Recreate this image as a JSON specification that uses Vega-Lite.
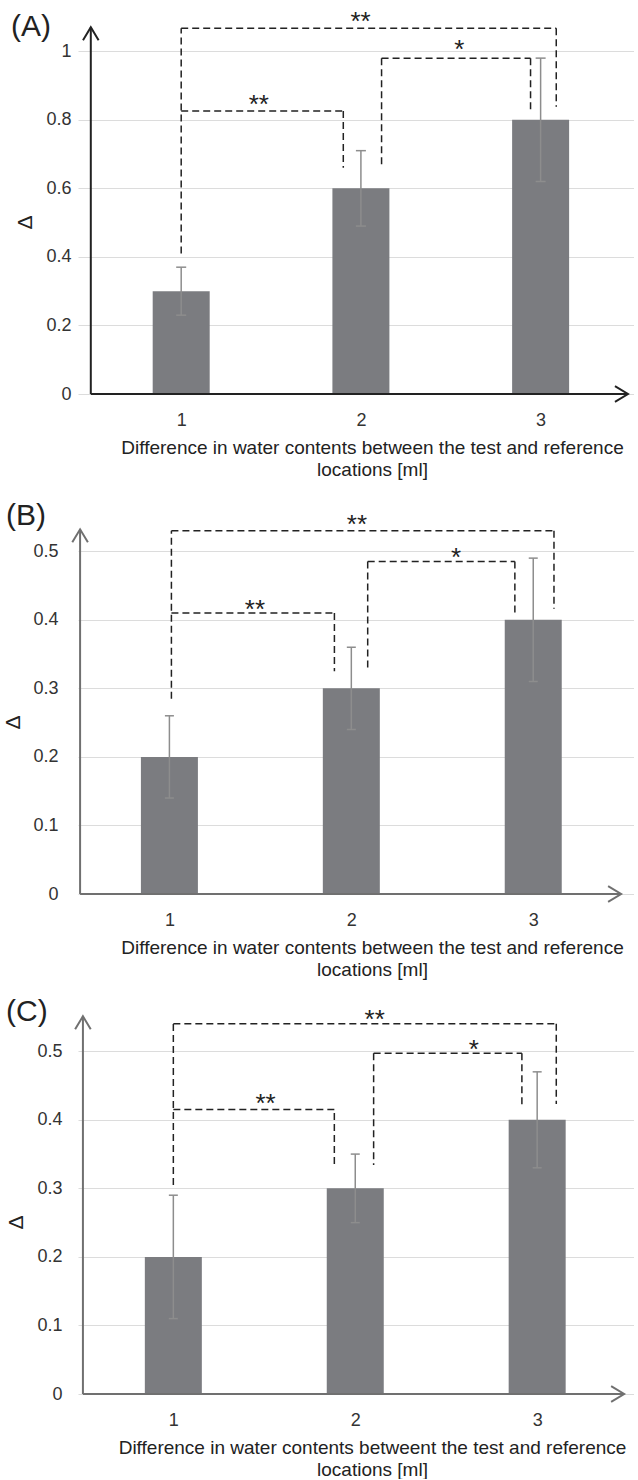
{
  "$schema": "https://vega.github.io/schema/vega-lite/v6.json",
  "padding": {"left": 2, "top": 9, "right": 0, "bottom": 0},
  "config": {
    "view": {"stroke": null},
    "font": "Liberation Sans",
    "axis": {"domain": false, "ticks": false, "labelFont": "Liberation Sans", "labelFontSize": 18, "labelColor": "#333", "titleFont": "Liberation Sans", "titleFontWeight": "normal", "titleColor": "#222"},
    "axisX": {"grid": false, "labelPadding": 17, "titleFontSize": 19, "titlePadding": 9, "titleLineHeight": 22, "titleX": 294, "labelAngle": 0},
    "axisY": {"grid": true, "gridColor": "#dcdcdc", "gridWidth": 1.2, "titleFontSize": 21, "titleAngle": -90, "titleBaseline": "middle", "titleY": 205},
    "title": {"anchor": "start", "frame": "group", "fontSize": 30, "fontWeight": "normal", "font": "Liberation Sans", "color": "#222", "baseline": "middle", "offset": 0}
  },
  "datasets": {
    "bars": [
      {"panel": "A", "x": 1, "y": 0.3, "lo": 0.23, "hi": 0.37},
      {"panel": "A", "x": 2, "y": 0.6, "lo": 0.49, "hi": 0.71},
      {"panel": "A", "x": 3, "y": 0.8, "lo": 0.62, "hi": 0.98},
      {"panel": "B", "x": 1, "y": 0.2, "lo": 0.14, "hi": 0.26},
      {"panel": "B", "x": 2, "y": 0.3, "lo": 0.24, "hi": 0.36},
      {"panel": "B", "x": 3, "y": 0.4, "lo": 0.31, "hi": 0.49},
      {"panel": "C", "x": 1, "y": 0.2, "lo": 0.11, "hi": 0.29},
      {"panel": "C", "x": 2, "y": 0.3, "lo": 0.25, "hi": 0.35},
      {"panel": "C", "x": 3, "y": 0.4, "lo": 0.33, "hi": 0.47}
    ],
    "brackets": [
      {"panel": "A", "x": 1.0, "y": 0.41, "x2": 1.0, "y2": 1.067},
      {"panel": "A", "x": 1.0, "y": 0.826, "x2": 1.902, "y2": 0.826},
      {"panel": "A", "x": 1.902, "y": 0.826, "x2": 1.902, "y2": 0.66},
      {"panel": "A", "x": 2.115, "y": 0.98, "x2": 2.944, "y2": 0.98},
      {"panel": "A", "x": 2.115, "y": 0.98, "x2": 2.115, "y2": 0.66},
      {"panel": "A", "x": 2.944, "y": 0.98, "x2": 2.944, "y2": 0.826},
      {"panel": "A", "x": 1.0, "y": 1.067, "x2": 3.087, "y2": 1.067},
      {"panel": "A", "x": 3.087, "y": 1.067, "x2": 3.087, "y2": 0.838},
      {"panel": "B", "x": 1.011, "y": 0.285, "x2": 1.011, "y2": 0.53},
      {"panel": "B", "x": 1.011, "y": 0.41, "x2": 1.907, "y2": 0.41},
      {"panel": "B", "x": 1.907, "y": 0.41, "x2": 1.907, "y2": 0.325},
      {"panel": "B", "x": 2.09, "y": 0.485, "x2": 2.899, "y2": 0.485},
      {"panel": "B", "x": 2.09, "y": 0.485, "x2": 2.09, "y2": 0.325},
      {"panel": "B", "x": 2.899, "y": 0.485, "x2": 2.899, "y2": 0.409},
      {"panel": "B", "x": 1.011, "y": 0.53, "x2": 3.114, "y2": 0.53},
      {"panel": "B", "x": 3.114, "y": 0.53, "x2": 3.114, "y2": 0.416},
      {"panel": "C", "x": 1.0, "y": 0.305, "x2": 1.0, "y2": 0.54},
      {"panel": "C", "x": 1.0, "y": 0.415, "x2": 1.885, "y2": 0.415},
      {"panel": "C", "x": 1.885, "y": 0.41, "x2": 1.885, "y2": 0.332},
      {"panel": "C", "x": 2.101, "y": 0.497, "x2": 2.916, "y2": 0.497},
      {"panel": "C", "x": 2.101, "y": 0.497, "x2": 2.101, "y2": 0.334},
      {"panel": "C", "x": 2.916, "y": 0.497, "x2": 2.916, "y2": 0.417},
      {"panel": "C", "x": 1.0, "y": 0.54, "x2": 3.105, "y2": 0.54},
      {"panel": "C", "x": 3.105, "y": 0.54, "x2": 3.105, "y2": 0.423}
    ],
    "stars": [
      {"panel": "A", "label": "**", "x": 1.432, "y": 0.863},
      {"panel": "A", "label": "*", "x": 2.548, "y": 1.023},
      {"panel": "A", "label": "**", "x": 1.998, "y": 1.105},
      {"panel": "B", "label": "**", "x": 1.47, "y": 0.424},
      {"panel": "B", "label": "*", "x": 2.576, "y": 0.5},
      {"panel": "B", "label": "**", "x": 2.031, "y": 0.548},
      {"panel": "C", "label": "**", "x": 1.507, "y": 0.433},
      {"panel": "C", "label": "*", "x": 2.652, "y": 0.512},
      {"panel": "C", "label": "**", "x": 2.107, "y": 0.556}
    ],
    "axislines": [
      {"panel": "A", "x": 0.497, "x2": 0.497, "y": 0, "y2": 1.07},
      {"panel": "A", "x": 0.497, "x2": 3.486, "y": 0, "y2": 0},
      {"panel": "B", "x": 0.509, "x2": 0.509, "y": 0, "y2": 0.532},
      {"panel": "B", "x": 0.509, "x2": 3.483, "y": 0, "y2": 0},
      {"panel": "C", "x": 0.503, "x2": 0.503, "y": 0, "y2": 0.551},
      {"panel": "C", "x": 0.503, "x2": 3.478, "y": 0, "y2": 0}
    ],
    "arrows": [
      {"panel": "A", "dir": "up", "x": 0.497, "y": 1.07},
      {"panel": "A", "dir": "right", "x": 3.486, "y": 0},
      {"panel": "B", "dir": "up", "x": 0.509, "y": 0.532},
      {"panel": "B", "dir": "right", "x": 3.483, "y": 0},
      {"panel": "C", "dir": "up", "x": 0.503, "y": 0.551},
      {"panel": "C", "dir": "right", "x": 3.478, "y": 0}
    ]
  },
  "spacing": 123,
  "bounds": "flush",
  "vconcat": [
    {
      "title": {"text": "(A)", "dx": -67, "dy": 37},
      "width": 556,
      "height": 377,
      "encoding": {
        "x": {"field": "x", "type": "quantitative", "scale": {"domain": [0.4536, 3.4918], "nice": false, "zero": false}, "axis": {"values": [1, 2, 3], "title": ["Difference in water contents between the test and reference", "locations [ml]"]}},
        "y": {"field": "y", "type": "quantitative", "scale": {"domain": [0, 1.1], "nice": false, "zero": false}, "axis": {"values": [0, 0.2, 0.4, 0.6, 0.8, 1], "format": "~g", "title": "Δ", "labelPadding": 7, "titleX": -52.5}}
      },
      "layer": [
        {"data": {"name": "bars"}, "transform": [{"filter": "datum.panel === 'A'"}], "mark": {"type": "bar", "orient": "vertical", "size": 57, "color": "#7b7c80", "opacity": 1}},
        {"data": {"name": "bars"}, "transform": [{"filter": "datum.panel === 'A'"}], "mark": {"type": "rule", "color": "#8d8d8d", "strokeWidth": 1.5}, "encoding": {"y": {"field": "lo", "type": "quantitative"}, "y2": {"field": "hi"}}},
        {"data": {"name": "bars"}, "transform": [{"filter": "datum.panel === 'A'"}], "mark": {"type": "tick", "orient": "horizontal", "size": 10, "thickness": 1.5, "color": "#8d8d8d", "opacity": 1}, "encoding": {"y": {"field": "lo", "type": "quantitative"}}},
        {"data": {"name": "bars"}, "transform": [{"filter": "datum.panel === 'A'"}], "mark": {"type": "tick", "orient": "horizontal", "size": 10, "thickness": 1.5, "color": "#8d8d8d", "opacity": 1}, "encoding": {"y": {"field": "hi", "type": "quantitative"}}},
        {"data": {"name": "brackets"}, "transform": [{"filter": "datum.panel === 'A'"}], "mark": {"type": "rule", "strokeDash": [7, 4], "strokeWidth": 1.5, "color": "#222"}, "encoding": {"x2": {"field": "x2"}, "y2": {"field": "y2"}}},
        {"data": {"name": "stars"}, "transform": [{"filter": "datum.panel === 'A'"}], "mark": {"type": "text", "fontSize": 26, "baseline": "middle", "dy": 7, "color": "#222"}, "encoding": {"text": {"field": "label"}}},
        {"data": {"name": "axislines"}, "transform": [{"filter": "datum.panel === 'A'"}], "mark": {"type": "rule", "strokeWidth": 2, "color": "#222"}, "encoding": {"x2": {"field": "x2"}, "y2": {"field": "y2"}}},
        {"data": {"name": "arrows"}, "transform": [{"filter": "datum.panel === 'A' && datum.dir === 'up'"}], "mark": {"type": "point", "shape": "M-0.6,1L0,0L0.6,1", "size": 676, "filled": false, "strokeWidth": 2, "color": "#222", "opacity": 1}},
        {"data": {"name": "arrows"}, "transform": [{"filter": "datum.panel === 'A' && datum.dir === 'right'"}], "mark": {"type": "point", "shape": "M-1,-0.6L0,0L-1,0.6", "size": 676, "filled": false, "strokeWidth": 2, "color": "#222", "opacity": 1}}
      ]
    },
    {
      "title": {"text": "(B)", "dx": -72, "dy": 23},
      "width": 556,
      "height": 377,
      "encoding": {
        "x": {"field": "x", "type": "quantitative", "scale": {"domain": [0.525, 3.5264], "nice": false, "zero": false}, "axis": {"values": [1, 2, 3], "title": ["Difference in water contents between the test and reference", "locations [ml]"]}},
        "y": {"field": "y", "type": "quantitative", "scale": {"domain": [0, 0.55], "nice": false, "zero": false}, "axis": {"values": [0, 0.1, 0.2, 0.3, 0.4, 0.5], "format": "~g", "title": "Δ", "labelPadding": 20, "titleX": -64.5}}
      },
      "layer": [
        {"data": {"name": "bars"}, "transform": [{"filter": "datum.panel === 'B'"}], "mark": {"type": "bar", "orient": "vertical", "size": 57, "color": "#7b7c80", "opacity": 1}},
        {"data": {"name": "bars"}, "transform": [{"filter": "datum.panel === 'B'"}], "mark": {"type": "rule", "color": "#8d8d8d", "strokeWidth": 1.5}, "encoding": {"y": {"field": "lo", "type": "quantitative"}, "y2": {"field": "hi"}}},
        {"data": {"name": "bars"}, "transform": [{"filter": "datum.panel === 'B'"}], "mark": {"type": "tick", "orient": "horizontal", "size": 9, "thickness": 1.5, "color": "#8d8d8d", "opacity": 1}, "encoding": {"y": {"field": "lo", "type": "quantitative"}}},
        {"data": {"name": "bars"}, "transform": [{"filter": "datum.panel === 'B'"}], "mark": {"type": "tick", "orient": "horizontal", "size": 9, "thickness": 1.5, "color": "#8d8d8d", "opacity": 1}, "encoding": {"y": {"field": "hi", "type": "quantitative"}}},
        {"data": {"name": "brackets"}, "transform": [{"filter": "datum.panel === 'B'"}], "mark": {"type": "rule", "strokeDash": [7, 4], "strokeWidth": 1.5, "color": "#222"}, "encoding": {"x2": {"field": "x2"}, "y2": {"field": "y2"}}},
        {"data": {"name": "stars"}, "transform": [{"filter": "datum.panel === 'B'"}], "mark": {"type": "text", "fontSize": 26, "baseline": "middle", "dy": 7, "color": "#222"}, "encoding": {"text": {"field": "label"}}},
        {"data": {"name": "axislines"}, "transform": [{"filter": "datum.panel === 'B'"}], "mark": {"type": "rule", "strokeWidth": 2, "color": "#707070"}, "encoding": {"x2": {"field": "x2"}, "y2": {"field": "y2"}}},
        {"data": {"name": "arrows"}, "transform": [{"filter": "datum.panel === 'B' && datum.dir === 'up'"}], "mark": {"type": "point", "shape": "M-0.6,1L0,0L0.6,1", "size": 676, "filled": false, "strokeWidth": 2, "color": "#707070", "opacity": 1}},
        {"data": {"name": "arrows"}, "transform": [{"filter": "datum.panel === 'B' && datum.dir === 'right'"}], "mark": {"type": "point", "shape": "M-1,-0.6L0,0L-1,0.6", "size": 676, "filled": false, "strokeWidth": 2, "color": "#707070", "opacity": 1}}
      ]
    },
    {
      "title": {"text": "(C)", "dx": -72, "dy": 24},
      "width": 556,
      "height": 377,
      "encoding": {
        "x": {"field": "x", "type": "quantitative", "scale": {"domain": [0.5034, 3.5048], "nice": false, "zero": false}, "axis": {"values": [1, 2, 3], "title": ["Difference in water contents betweent the test and reference", "locations [ml]"]}},
        "y": {"field": "y", "type": "quantitative", "scale": {"domain": [0, 0.55], "nice": false, "zero": false}, "axis": {"values": [0, 0.1, 0.2, 0.3, 0.4, 0.5], "format": "~g", "title": "Δ", "labelPadding": 16, "titleX": -61.5}}
      },
      "layer": [
        {"data": {"name": "bars"}, "transform": [{"filter": "datum.panel === 'C'"}], "mark": {"type": "bar", "orient": "vertical", "size": 57, "color": "#7b7c80", "opacity": 1}},
        {"data": {"name": "bars"}, "transform": [{"filter": "datum.panel === 'C'"}], "mark": {"type": "rule", "color": "#8d8d8d", "strokeWidth": 1.5}, "encoding": {"y": {"field": "lo", "type": "quantitative"}, "y2": {"field": "hi"}}},
        {"data": {"name": "bars"}, "transform": [{"filter": "datum.panel === 'C'"}], "mark": {"type": "tick", "orient": "horizontal", "size": 9, "thickness": 1.5, "color": "#8d8d8d", "opacity": 1}, "encoding": {"y": {"field": "lo", "type": "quantitative"}}},
        {"data": {"name": "bars"}, "transform": [{"filter": "datum.panel === 'C'"}], "mark": {"type": "tick", "orient": "horizontal", "size": 9, "thickness": 1.5, "color": "#8d8d8d", "opacity": 1}, "encoding": {"y": {"field": "hi", "type": "quantitative"}}},
        {"data": {"name": "brackets"}, "transform": [{"filter": "datum.panel === 'C'"}], "mark": {"type": "rule", "strokeDash": [7, 4], "strokeWidth": 1.5, "color": "#222"}, "encoding": {"x2": {"field": "x2"}, "y2": {"field": "y2"}}},
        {"data": {"name": "stars"}, "transform": [{"filter": "datum.panel === 'C'"}], "mark": {"type": "text", "fontSize": 26, "baseline": "middle", "dy": 7, "color": "#222"}, "encoding": {"text": {"field": "label"}}},
        {"data": {"name": "axislines"}, "transform": [{"filter": "datum.panel === 'C'"}], "mark": {"type": "rule", "strokeWidth": 2, "color": "#707070"}, "encoding": {"x2": {"field": "x2"}, "y2": {"field": "y2"}}},
        {"data": {"name": "arrows"}, "transform": [{"filter": "datum.panel === 'C' && datum.dir === 'up'"}], "mark": {"type": "point", "shape": "M-0.6,1L0,0L0.6,1", "size": 676, "filled": false, "strokeWidth": 2, "color": "#707070", "opacity": 1}},
        {"data": {"name": "arrows"}, "transform": [{"filter": "datum.panel === 'C' && datum.dir === 'right'"}], "mark": {"type": "point", "shape": "M-1,-0.6L0,0L-1,0.6", "size": 676, "filled": false, "strokeWidth": 2, "color": "#707070", "opacity": 1}}
      ]
    }
  ]
}
